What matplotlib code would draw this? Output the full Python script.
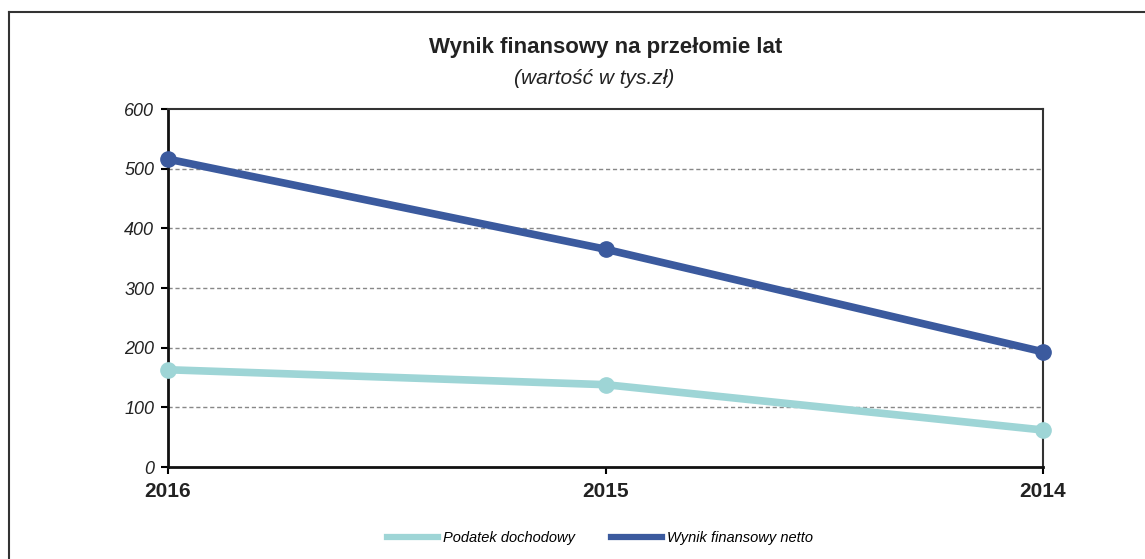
import matplotlib
matplotlib.use("Agg")
import matplotlib.pyplot as plt
from matplotlib.lines import Line2D

years = ["2016", "2015", "2014"]
podatek = [163, 138, 62]
wynik = [516, 365, 193]
yticks = [0, 100, 200, 300, 400, 500, 600]

W, H = 1145, 559
fig = plt.figure(figsize=(W / 100, H / 100), dpi=100)
plt.rcParams['font.family'] = ['Liberation Sans', 'DejaVu Sans']

ax = fig.add_axes([168 / W, 1 - 467 / H, (1043 - 168) / W, (467 - 109) / H])
x = list(range(len(years)))
c_pod = "#9ed5d6"
c_wyn = "#3b5a9e"
ax.plot(x, podatek, color=c_pod, lw=5.5, marker="o", ms=11, solid_capstyle="round", zorder=3, clip_on=False)
ax.plot(x, wynik, color=c_wyn, lw=5.5, marker="o", ms=11, solid_capstyle="round", zorder=3, clip_on=False)

ax.set_xlim(0, 2)
ax.set_ylim(0, 600)
ax.set_yticks(yticks)
ax.set_yticklabels([str(v) for v in yticks], fontsize=13, style="italic", color="#222222")
ax.set_xticks(x)
ax.set_xticklabels(years, fontsize=15, fontweight="bold", color="#222222")
ax.tick_params(axis="x", direction="out", length=5, width=1.5, pad=6)
ax.tick_params(axis="y", direction="out", length=5, width=1.5, pad=5)
for g in [100, 200, 300, 400, 500]:
    ax.axhline(g, color="#888888", lw=1.0, ls=(0, (3, 2)), zorder=1)
for s in ["left", "bottom"]:
    ax.spines[s].set_linewidth(2.0)
    ax.spines[s].set_color("#111111")
for s in ["top", "right"]:
    ax.spines[s].set_linewidth(1.5)
    ax.spines[s].set_color("#333333")

cx = 0.5 * (168 + 1043) / W
fig.text(cx, 1 - 47 / H, "Wynik finansowy na przełomie lat", ha="center", va="center",
         fontsize=16, fontweight="bold", color="#222222")
fig.text(cx - 0.01, 1 - 78 / H, "(wartość w tys.zł)", ha="center", va="center",
         fontsize=15, style="italic", color="#222222")

handles = [Line2D([0], [0], color=c_pod, lw=4.5), Line2D([0], [0], color=c_wyn, lw=4.5)]
fig.legend(handles, ["Podatek dochodowy", "Wynik finansowy netto"], loc="center",
           bbox_to_anchor=(600 / W, 1 - 538 / H), ncol=2, frameon=False,
           prop={"size": 10.5, "style": "italic"}, handlelength=3.5, handletextpad=0.3, columnspacing=2.5)

# outer frame
fig.add_artist(Line2D([9 / W, 1.0], [1 - 12 / H, 1 - 12 / H], color="#333333", lw=1.5, transform=fig.transFigure))
fig.add_artist(Line2D([9 / W, 9 / W], [0, 1 - 12 / H], color="#333333", lw=1.5, transform=fig.transFigure))

fig.savefig("out.png", dpi=100)
